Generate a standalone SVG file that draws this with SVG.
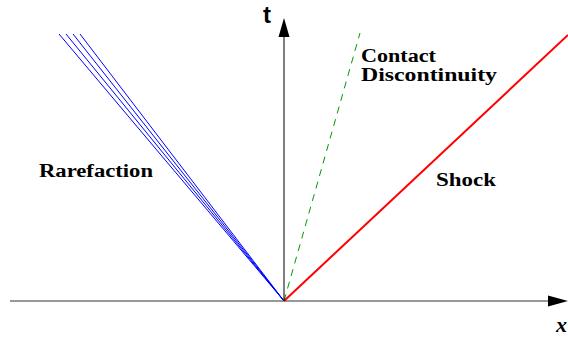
<svg xmlns="http://www.w3.org/2000/svg" width="568" height="338" viewBox="0 0 568 338">
<defs>
<style>
text{font-family:"Times New Roman","Liberation Serif","DejaVu Serif",serif;font-weight:bold;font-size:18px;fill:#000}
.ax{stroke:#000;stroke-width:1;fill:none}
.rare{stroke:#0000ff;stroke-width:1;fill:none}
</style>
</defs>
<rect width="568" height="338" fill="#fff"/>
<g id="connectors">
<g id="rarefaction-fan">
<line class="rare" x1="59" y1="34" x2="284" y2="301"/>
<line class="rare" x1="66" y1="34" x2="284" y2="301"/>
<line class="rare" x1="73" y1="34" x2="284" y2="301"/>
<line class="rare" x1="80" y1="34" x2="284" y2="301"/>
</g>
<line id="contact" x1="284" y1="301" x2="360" y2="33" stroke="#009900" stroke-width="1" stroke-dasharray="7,6"/>
<line id="shock" x1="284" y1="301" x2="568" y2="35" stroke="#ff0000" stroke-width="2"/>
<line id="t-axis" class="ax" x1="284" y1="301" x2="284" y2="35"/>
<polygon points="284,18 278.5,37 289.5,37" fill="#000"/>
<line id="x-axis" x1="10" y1="301" x2="550" y2="301" stroke="#333" stroke-width="1.2"/>
<polygon points="568,301 548,295.5 548,306.5" fill="#000"/>
</g>
<g id="label-t"><text x="263" y="23" style="font-family:'Liberation Sans',sans-serif;font-size:24px">t</text></g>
<g id="label-x"><text x="556" y="332" style="font-style:italic;font-size:22px">x</text></g>
<g id="label-rarefaction"><text x="39" y="177" textLength="114" lengthAdjust="spacingAndGlyphs">Rarefaction</text></g>
<g id="label-contact"><text x="361" y="62" textLength="75" lengthAdjust="spacingAndGlyphs">Contact</text><text x="361" y="81" textLength="136" lengthAdjust="spacingAndGlyphs">Discontinuity</text></g>
<g id="label-shock"><text x="436" y="186" textLength="60" lengthAdjust="spacingAndGlyphs">Shock</text></g>
</svg>
